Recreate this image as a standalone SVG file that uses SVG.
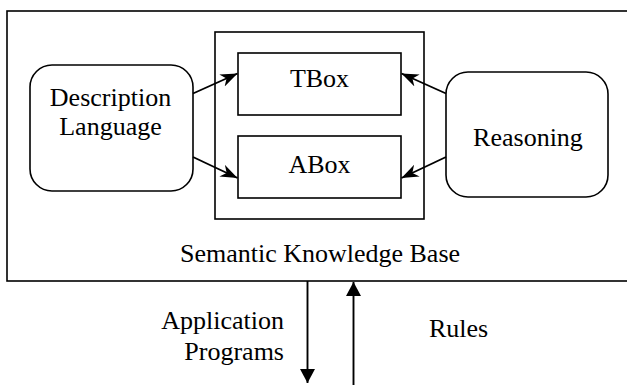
<svg xmlns="http://www.w3.org/2000/svg" width="627" height="385" viewBox="0 0 627 385">
<style>
.box{fill:#fff;stroke:#000;stroke-width:1.6}
.t{font-family:'Liberation Serif',Tinos,'Times New Roman','DejaVu Serif',serif;font-size:26px;fill:#000}
.c{stroke:#000;stroke-width:1.9;fill:none}
</style>
<defs>
<marker id="ah" markerUnits="userSpaceOnUse" markerWidth="20" markerHeight="16" refX="17" refY="6.5" orient="auto">
<path d="M0,0 L17,6.5 L0,13 L5,6.5 z" fill="#000"/>
</marker>
<marker id="tri" markerUnits="userSpaceOnUse" markerWidth="16" markerHeight="16" refX="14" refY="7.5" orient="auto">
<path d="M0,0 L14,7.5 L0,15 z" fill="#000"/>
</marker>
</defs>
<g id="kb">
<rect class="box" x="7" y="11" width="630" height="270"/>
<text class="t" x="320" y="262" text-anchor="middle">Semantic Knowledge Base</text>
</g>
<g id="container">
<rect class="box" x="215" y="32" width="209" height="187"/>
</g>
<g id="tbox">
<rect class="box" x="238" y="53" width="163" height="62"/>
<text class="t" x="319.5" y="87" text-anchor="middle">TBox</text>
</g>
<g id="abox">
<rect class="box" x="238" y="136" width="163" height="62"/>
<text class="t" x="319.5" y="172.5" text-anchor="middle">ABox</text>
</g>
<g id="dl">
<rect class="box" x="30" y="65" width="163" height="126" rx="22"/>
<text class="t" x="110.5" y="106" text-anchor="middle">Description</text>
<text class="t" x="110.5" y="135" text-anchor="middle">Language</text>
</g>
<g id="reasoning">
<rect class="box" x="446" y="72" width="162" height="125" rx="22"/>
<text class="t" x="528" y="146" text-anchor="middle">Reasoning</text>
</g>
<g id="labels">
<text class="t" x="284" y="329" text-anchor="end">Application</text>
<text class="t" x="284" y="360" text-anchor="end">Programs</text>
<text class="t" x="429" y="336.5">Rules</text>
</g>
<g id="connectors">
<line class="c" x1="193" y1="93.5" x2="237.5" y2="73.5" marker-end="url(#ah)"/>
<line class="c" x1="193" y1="157" x2="237.5" y2="178" marker-end="url(#ah)"/>
<line class="c" x1="446" y1="93.5" x2="401.5" y2="73.5" marker-end="url(#ah)"/>
<line class="c" x1="446" y1="157" x2="401.5" y2="178" marker-end="url(#ah)"/>
<line class="c" x1="307.5" y1="281" x2="307.5" y2="383" marker-end="url(#tri)"/>
<line class="c" x1="353.5" y1="385" x2="353.5" y2="282" marker-end="url(#tri)"/>
</g>
</svg>
